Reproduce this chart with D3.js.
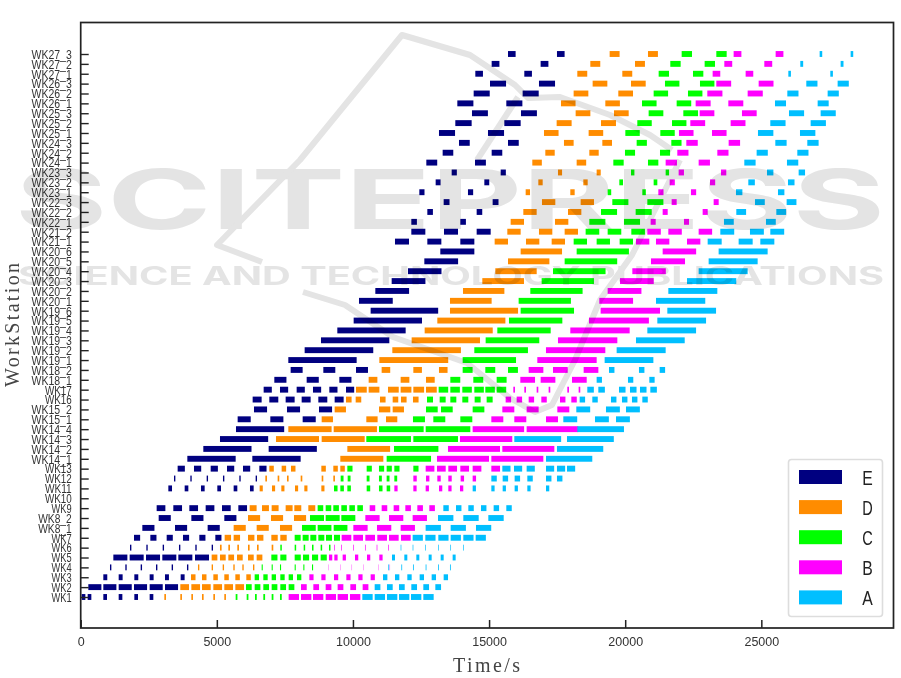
<!DOCTYPE html>
<html>
<head>
<meta charset="utf-8">
<script src="https://cdn.jsdelivr.net/npm/d3@7"></script>
<style>
html,body{margin:0;padding:0;background:#fff;}
svg{display:block;}
</style>
</head>
<body>
<div id="chart"></div>
<script>
const workstations = ["WK1","WK2","WK3","WK4","WK5","WK6","WK7","WK8_1","WK8_2","WK9","WK10","WK11","WK12","WK13",
"WK14_1","WK14_2","WK14_3","WK14_4","WK15_1","WK15_2","WK16","WK17","WK18_1","WK18_2",
"WK19_1","WK19_2","WK19_3","WK19_4","WK19_5","WK19_6","WK20_1","WK20_2","WK20_3","WK20_4","WK20_5","WK20_6",
"WK21_1","WK21_2","WK22_1","WK22_2","WK22_3","WK23_1","WK23_2","WK23_3","WK24_1","WK24_2","WK24_3",
"WK25_1","WK25_2","WK25_3","WK26_1","WK26_2","WK26_3","WK27_1","WK27_2","WK27_3"];

const xTicks = [0,5000,10000,15000,20000,25000];
const operations = ["E","D","C","B","A"];
const opColors = ["#000080","#FF8C00","#00FF00","#FF00FF","#00BFFF"];

// start times per workstation (seconds), in the order of `workstations`
const startsE = [
[36,256,831,1395,1970,2533],[280,831,1395,1958,2533,3096],[831,1395,1970,2533,3096,3672],[1076,1639,2203,2766,3341,3904],
[1199,1798,2399,2998,3586,4198],[1811,2411,3011,3610,4210,4810],[1958,2558,3158,3757,4357,4945],[2264,3464,4663],[2864,4064,5275],
[2790,3402,3990,4590,5190,5790],[],[3219,3819,4418,5018,5618,6218],[3427,4027,4627,5226,5826,6426],[3561,4161,4774,5374,5961,6561],
[3917,6304],[4504,6904],[5116],[5704],[5765,6965,8153],[6365,7577,8753],[6316,6928,7528,8116,8728,9328],[6720,7320,7932,8532,9132,9745],
[7112,8300,9500],[7712,8912,10112],[7626],[8226],[8826],[9426],[10026],[10650],[10222],[10822],[11422],[12022],[12622],[13209],
[11544,12732,13944],[12144,13344,14544],[12144,13944],[12732,14544],[13332,15131],[12438,14225],[13038,14826],[13626,15426],
[12695,14483],[13295,15095],[13895,15695],[13160,14960],[13760,15560],[14372,16172],[13834,15633],[14434,16233],[15034,16833],
[14495,16294],[15095,16894],[15695,17494]];
const startsD = [
[3072,3659,4064,4455,4872,5275],[3659,4064,4455,4872,5275,5680],[4052,4455,4872,5275,5680,6083],[4308,4810,5215,5606,5937,6329],
[4810,5116,5423,5741,6145,6463],[5116,5423,5753,6145,6476,7014],[5288,5618,6145,6476,7002,7332],[5618,6463,7320],[6145,6989,7834],
[6206,6659,7014,7528,7847,8361],[],[6573,7026,7369,7871,8214,8839],[6782,7234,7577,8080,8851,9279],[6928,7381,7724,8839,9279,9536],
[9536],[9794],[7173,8851],[7626,9292],[8851,10491,11214],[9328,10957,11459],[9745,10100,10993,11459,11765,12205],[10112,10577,11287,11752,12218,12683],
[10577,11752,12683],[11054,12218,13160],[10969],[11446],[12156],[12634],[13099],[13564],[13564],[14042],[14752],[15229],[15695],[16160],
[15205,16356,17299],[15670,16833,17776],[15793,17421],[16258,17899],[16943,18364],[16344,17984],[16809,18462],[17531,18951],
[16588,18217],[17066,18682],[17751,19160],[17017,18657],[17482,19111],[18180,19588],[17641,19270],[18106,19747],[18804,20213],
[18241,19894],[18719,20360],[19429,20837]];
const startsC = [
[5692,6096,6402,6708,7014,7320],[6071,6390,6708,7014,7332,7638],[6390,6708,7014,7332,7638,7944],[6647,7014,7320,7859,8177,8496],
[7002,7332,7859,8165,8496,8814],[7332,7859,8190,8496,8814,9120],[7859,8153,8435,8728,9010,9304],[8128,8704,9292],[8422,8998,9573],
[8704,8998,9279,9573,9867,10161],[],[9304,9537,9794,10504,10956,11238],[9549,9806,10504,10956,11238,11520],[9794,10504,10956,11238,11520,12218],
[11238],[11508],[10491,12218],[10957,12671],[12205,12952,13944],[12683,13234,14397],[12720,13185,13577,14017,14470,14911],[13148,13577,14017,14458,14862,15279],
[13577,14421,15279],[14030,14862,15695],[14030],[14458],[14874],[15303],[15731],[16160],[16086],[16515],[16931],[17348],[17776],[18217],
[18107,18951,19796],[18547,19356,20225],[18682,19955],[19111,20384],[19527,20813],[19356,20629],[19784,21045],[20213,21486],
[19564,20837],[19992,21278],[20421,21694],[20005,21290],[20445,21719],[20861,22135],[20617,21890],[21045,22306],[21461,22747],
[21229,22490],[21657,22918],[22074,23347]];
const startsB = [
[7638,8092,8532,8998,9438,9891],[8092,8545,8998,9438,9904,10357],[8398,8839,9304,9757,10198,10650],[9096,9525,9954,10382,10932,11350],
[9120,9316,9622,10075,10516,10969],[9316,9573,10014,10442,10871,11299],[9585,10014,10455,10895,11324,11765],[10014,10883,11752],[10455,11324,12193],
[10614,11055,11495,11924,12365,12805],[],[11520,12218,12671,13161,13503,13932],[12218,12683,13099,13503,13956,14397],[12671,13087,13503,13944,14397,15083],
[13087,15083],[13491,15487],[13932],[14397,16380],[15083,15927,17091],[15487,16380,17507],[15609,16013,16454,16919,17605,18021],[15891,16295,16748,17188,17874,18290],
[16148,16895,18046],[16454,17348,18474],[16772],[17090],[17531],[17984],[18670],[19098],[19049],[19356],[19809],[20262],[20947],[21376],
[20396,21131,22270],[20813,21584,22698],[20935,22159],[21376,22845],[21706,23249],[21217,22416],[21633,23115],[21963,23518],
[21486,22698],[21914,23384],[22245,23800],[21975,23188],[22392,23873],[22735,24289],[22588,23788],[23016,24498],[23347,24902],
[23212,24424],[23641,25110],[23983,25526]];
const startsA = [
[10344,10798,11250,11691,12132,12585],[10798,11250,11691,12144,12585,13026],[11104,11544,11997,12450,12891,13332],[11299,11777,12205,12670,13124,13564],
[11434,11887,12328,12781,13222,13662],[11752,12193,12658,13124,13577,14042],[12193,12658,13136,13589,14054,14507],[12670,13589,14519],[13124,14054,14972],
[13320,13785,14238,14703,15168,15633],[],[14397,15083,15499,15939,16405,17091],[15083,15499,15939,16405,17091,17494],[15487,15915,16380,17091,17494,17862],
[17091],[17494],[15927,17862],[18241],[17727,18890,19662],[18204,19294,20029],[18327,18792,19478,19882,20249,20629],[18608,19013,19772,20176,20543,20923],
[18951,20102,20886],[19405,20506,21266],[19245],[19686],[20396],[20813],[21180],[21547],[21131],[21584],[22270],[22698],[23065],[23432],
[23029,24167,24963],[23494,24583,25330],[23628,25171],[24081,25551],[24767,25930],[24069,25612],[24522,25979],[25208,26371],
[24375,25942],[24828,26322],[25514,26689],[24877,26420],[25330,26812],[26016,27179],[25502,27069],[25955,27436],[26652,27803],
[25992,27534],[26432,27913],[27142,28281]];

// processing duration per workstation (seconds), same order
const dursE = [135,480,145,50,515,50,225,445,445,320,0,135,50,265,1775,1770,1770,1770,480,480,330,300,445,440,2510,2520,2510,2510,2510,2480,1240,1240,1240,1230,1240,1250,515,515,205,205,215,190,180,190,400,390,395,590,600,585,590,590,590,280,285,280];
const dursD = [60,320,165,50,210,60,235,445,445,255,0,115,60,165,1580,1570,1580,1590,415,415,205,395,320,315,2530,2520,2510,2500,2500,2500,1530,1520,1530,1520,1520,1520,490,490,490,490,490,160,160,150,350,345,355,535,550,540,535,540,540,365,365,365];
const dursC = [65,210,160,40,225,55,220,505,515,205,0,130,105,190,1630,1630,1640,1640,440,430,220,350,365,365,1960,1970,1970,1960,1960,1960,1920,1920,1920,1930,1930,1920,490,500,590,590,590,130,135,125,380,370,375,530,530,540,535,530,530,380,380,380];
const dursB = [380,210,155,12,120,25,355,525,525,205,0,120,125,320,1910,1910,1920,1890,440,440,200,60,540,540,2180,2180,2180,2180,2200,2180,1240,1240,1240,1230,1250,1230,490,495,185,185,185,190,190,195,415,410,420,535,545,540,550,555,545,280,290,285];
const dursA = [380,210,160,30,110,25,375,560,565,200,0,120,200,300,1700,1700,1720,1714,510,510,200,240,195,200,1790,1800,1790,1790,1790,1790,1810,1800,1810,1800,1800,1800,515,510,360,360,360,235,240,235,415,410,415,565,560,555,405,410,410,95,105,95];

const allStarts = [startsE,startsD,startsC,startsB,startsA];
const allDurs = [dursE,dursD,dursC,dursB,dursA];

const W = 901, H = 678;
const svg = d3.select("#chart").append("svg").attr("width",W).attr("height",H);

const defs = svg.append("defs");
defs.append("filter").attr("id","soft").attr("x","-5%").attr("y","-5%").attr("width","110%").attr("height","110%")
  .append("feGaussianBlur").attr("stdDeviation",0.4);

svg.append("rect").attr("width",W).attr("height",H).attr("fill","#fff");

const plot = {l:80.7, r:893.5, t:22.5, b:628};
const x = d3.scaleLinear().domain([0,29855]).range([plot.l,plot.r]);
const y = d3.scalePoint().domain(workstations).range([597,54]);
const barH = 5.9;

// bars
const barsG = svg.append("g").attr("filter","url(#soft)");
operations.forEach((op,k)=>{
  const records = [];
  allStarts[k].forEach((list,i)=>list.forEach(s=>records.push({row:workstations[i],start:s,dur:allDurs[k][i]})));
  barsG.append("g").attr("class","op-"+op).selectAll("rect").data(records).join("rect")
    .attr("x",d=>x(d.start))
    .attr("y",d=>y(d.row)-barH/2)
    .attr("width",d=>x(d.start+d.dur)-x(d.start))
    .attr("height",barH)
    .attr("fill",opColors[k]);
});

// axes
const axG = svg.append("g").attr("filter","url(#soft)");
axG.append("rect").attr("x",plot.l).attr("y",plot.t).attr("width",plot.r-plot.l).attr("height",plot.b-plot.t)
  .attr("fill","none").attr("stroke","#222").attr("stroke-width",1.7);

const xAxis = axG.append("g").attr("transform",`translate(0,${plot.b})`)
  .call(d3.axisBottom(x).tickValues(xTicks).tickSizeInner(-8).tickSizeOuter(0).tickPadding(9).tickFormat(d3.format("d")));
xAxis.select(".domain").remove();
xAxis.selectAll("line").attr("stroke","#222").attr("stroke-width",1.5);
xAxis.selectAll("text").attr("font-family","'Liberation Sans',Arial,sans-serif").attr("font-size",12.5).attr("fill","#333");

const yAxis = axG.append("g").attr("transform",`translate(${plot.l},0)`)
  .call(d3.axisLeft(y).tickSizeInner(-8).tickSizeOuter(0).tickPadding(9));
yAxis.select(".domain").remove();
yAxis.selectAll("line").attr("stroke","#222").attr("stroke-width",1.4);
yAxis.selectAll("text")
  .attr("font-family","'Liberation Sans',Arial,sans-serif")
  .attr("font-size",13.5).attr("fill","#333")
  .attr("textLength",d=>d.length*6.7).attr("lengthAdjust","spacingAndGlyphs");

// axis titles
axG.append("text").text("Time/s").attr("x",486.5).attr("y",672).attr("text-anchor","middle")
  .attr("font-family","'Liberation Serif',serif").attr("font-size",20).attr("fill","#444")
  .attr("textLength",67).attr("lengthAdjust","spacing");
axG.append("text").text("WorkStation").attr("transform","translate(19,325) rotate(-90)").attr("text-anchor","middle")
  .attr("font-family","'Liberation Serif',serif").attr("font-size",20).attr("fill","#444")
  .attr("textLength",124).attr("lengthAdjust","spacing");

// legend
const lg = svg.append("g").attr("filter","url(#soft)");
lg.append("rect").attr("x",788.5).attr("y",459.5).attr("width",94).attr("height",157).attr("rx",3)
  .attr("fill","#fff").attr("stroke","#ddd").attr("stroke-width",1.6);
operations.forEach((op,k)=>{
  const cy = 477 + k*30.1;
  lg.append("rect").attr("x",799).attr("y",cy-7).attr("width",43).attr("height",14).attr("fill",opColors[k]);
  lg.append("text").text(op).attr("x",867.5).attr("y",cy+7.5).attr("text-anchor","middle")
    .attr("font-family","'Liberation Sans',sans-serif").attr("font-size",21).attr("fill","#222")
    .attr("textLength",10.5).attr("lengthAdjust","spacingAndGlyphs");
});

// publisher watermark
const wm = svg.append("g").style("mix-blend-mode","multiply").attr("filter","url(#soft)");
const wmColor = "#e4e4e4";
wm.append("text").text("SCITEPRESS").attr("x",15).attr("y",229)
  .attr("font-family","Inter,'Open Sans',sans-serif").attr("font-weight",700).attr("font-size",82)
  .attr("fill",wmColor).attr("textLength",870).attr("lengthAdjust","spacingAndGlyphs");
wm.append("text").text("SCIENCE AND TECHNOLOGY PUBLICATIONS").attr("x",18).attr("y",285)
  .attr("font-family","Inter,'Open Sans',sans-serif").attr("font-weight",700).attr("font-size",25)
  .attr("fill",wmColor).attr("textLength",866).attr("lengthAdjust","spacingAndGlyphs");
const logo = d3.line().curve(d3.curveLinear);
[
 [[262,262],[217,245],[300,160],[402,35],[470,55],[515,85],[528,98],[560,97],[610,115],[650,135],[672,150]],
 [[518,97],[477,160]],
 [[303,292],[345,305],[393,337],[467,363],[510,398],[535,412],[552,405],[575,360],[600,300],[632,255],[665,190],[680,160]]
].forEach(pts=>{
  wm.append("path").attr("d",logo(pts)).attr("fill","none").attr("stroke",wmColor).attr("stroke-width",6).attr("stroke-linejoin","round");
});
</script>
</body>
</html>
